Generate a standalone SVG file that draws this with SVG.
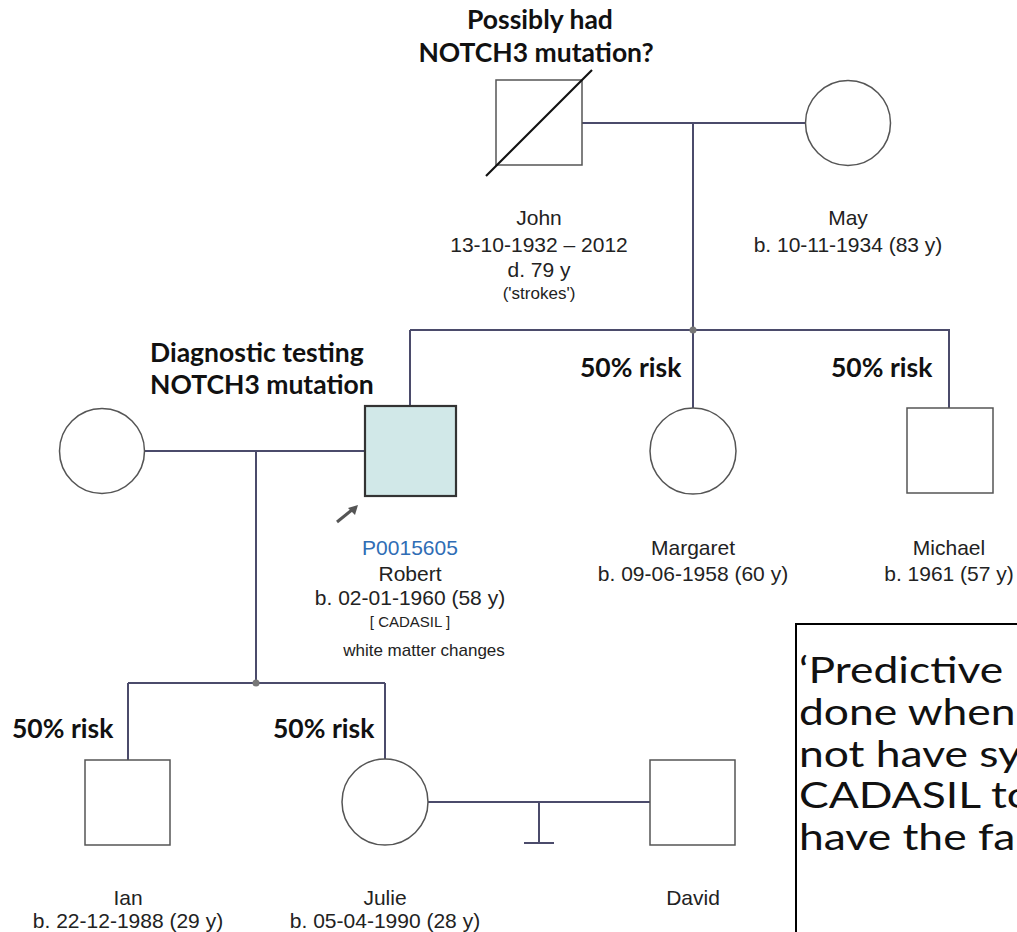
<svg xmlns="http://www.w3.org/2000/svg" width="1017" height="932" viewBox="0 0 1017 932">
<style>
.sh{fill:#fff;stroke:#555;stroke-width:1.5}
.ln{fill:none;stroke:#4b4b6b;stroke-width:2}
.t{font-family:"Liberation Sans",Arial,sans-serif;font-size:21px;fill:#222;text-anchor:middle}
.b{font-family:Lato,"Liberation Sans",sans-serif;font-weight:bold;font-size:26.5px;fill:#111}
.bc{text-anchor:middle}
.big{font-family:Lato,"Liberation Sans",sans-serif;font-size:37px;fill:#111}
</style>
<rect width="1017" height="932" fill="#fff"/>
<g id="connectors">
<path class="ln" d="M582 123H806M693 123V330M410 330H949V408M410 330V406M693 330V408"/>
<path class="ln" d="M145 451H365M256 451V683M128 683H385M128 683V760M385 683V760"/>
<path class="ln" d="M428 802H650M539 802V843M524 843H554"/>
<circle cx="693" cy="330" r="3.5" fill="#777"/>
<circle cx="256" cy="683" r="3.5" fill="#777"/>
</g>
<g id="john">
<rect class="sh" x="496" y="80" width="86" height="85"/>
<line x1="486" y1="176" x2="592" y2="70" stroke="#111" stroke-width="2.2"/>
<text class="b bc" x="540" y="29">Possibly had</text>
<text class="b bc" x="536" y="62">NOTCH3 mutation?</text>
<text class="t" x="539" y="225">John</text>
<text class="t" x="539" y="252">13-10-1932 – 2012</text>
<text class="t" x="539" y="277">d. 79 y</text>
<text class="t" x="539" y="299" style="font-size:17px">('strokes')</text>
</g>
<g id="may">
<circle class="sh" cx="848" cy="123" r="42.5"/>
<text class="t" x="848" y="225">May</text>
<text class="t" x="848" y="252">b. 10-11-1934 (83 y)</text>
</g>
<g id="wife">
<circle class="sh" cx="102" cy="451" r="42.5"/>
</g>
<g id="robert">
<rect x="365" y="406" width="91" height="90" fill="#d1e8e8" stroke="#333" stroke-width="2.2"/>
<path d="M337 522L353 509" stroke="#555" stroke-width="3"/>
<path d="M358 505L348 508L355 515Z" fill="#555"/>
<text class="b" x="150" y="362">Diagnostic testing</text>
<text class="b" x="150" y="394">NOTCH3 mutation</text>
<text class="t" x="410" y="555" style="fill:#2f6db5">P0015605</text>
<text class="t" x="410" y="581">Robert</text>
<text class="t" x="410" y="605">b. 02-01-1960 (58 y)</text>
<text class="t" x="410" y="627" style="font-size:15px">[ CADASIL ]</text>
<text class="t" x="424" y="656" style="font-size:17px">white matter changes</text>
</g>
<g id="margaret">
<circle class="sh" cx="693" cy="451" r="43"/>
<text class="b" x="580" y="377">50% risk</text>
<text class="t" x="693" y="555">Margaret</text>
<text class="t" x="693" y="581">b. 09-06-1958 (60 y)</text>
</g>
<g id="michael">
<rect class="sh" x="907" y="408" width="86" height="85"/>
<text class="b" x="831" y="377">50% risk</text>
<text class="t" x="949" y="555">Michael</text>
<text class="t" x="949" y="581">b. 1961 (57 y)</text>
</g>
<g id="ian">
<rect class="sh" x="85" y="760" width="85" height="85"/>
<text class="b" x="12" y="738">50% risk</text>
<text class="t" x="128" y="905">Ian</text>
<text class="t" x="128" y="928">b. 22-12-1988 (29 y)</text>
</g>
<g id="julie">
<circle class="sh" cx="385" cy="802" r="43"/>
<text class="b" x="273" y="738">50% risk</text>
<text class="t" x="385" y="905">Julie</text>
<text class="t" x="385" y="928">b. 05-04-1990 (28 y)</text>
</g>
<g id="david">
<rect class="sh" x="650" y="760" width="85" height="85"/>
<text class="t" x="693" y="905">David</text>
</g>
<g id="note">
<path d="M796 932V624H1017" fill="none" stroke="#000" stroke-width="2"/>
<g transform="translate(799 0) scale(1.2 1)">
<text class="big" x="0" y="683">‘Predictive</text>
<text class="big" x="0" y="725">done when</text>
<text class="big" x="0" y="767">not have sy</text>
<text class="big" x="0" y="808">CADASIL to</text>
<text class="big" x="0" y="850">have the fa</text>
</g>
</g>
</svg>
